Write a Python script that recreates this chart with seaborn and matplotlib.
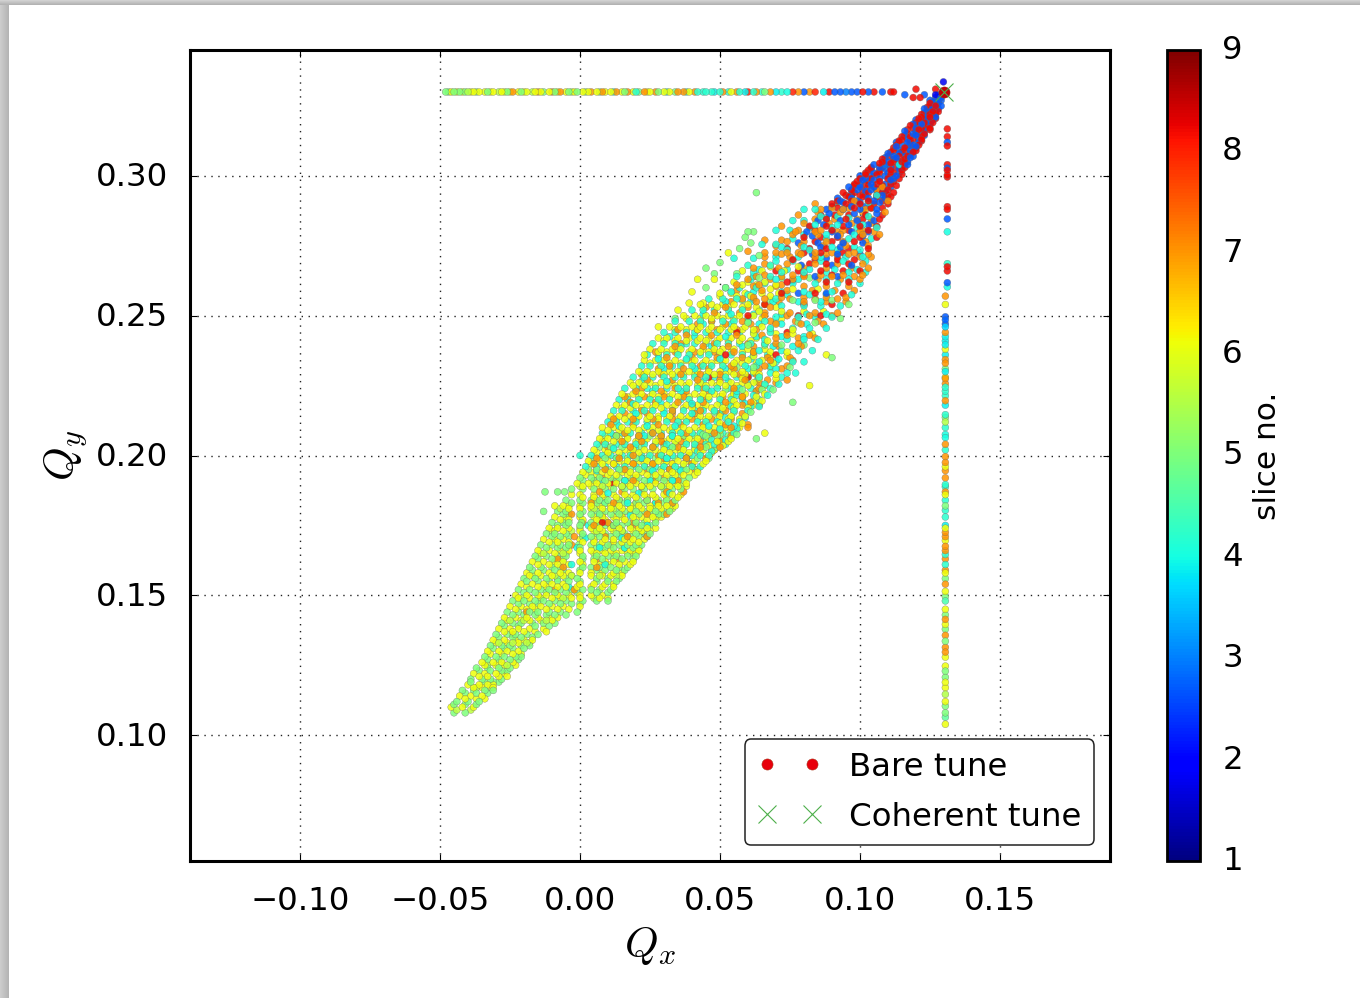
import numpy as np
import pandas as pd
import matplotlib
matplotlib.use("Agg")
import matplotlib.pyplot as plt
from matplotlib.patches import Rectangle
from matplotlib.cm import ScalarMappable
from matplotlib.colors import Normalize
from matplotlib.transforms import ScaledTranslation
import seaborn as sns

yellow_a = {
110:[-46,-42,-38],114:[-43,-39,-35],118:[-40,-36,-33,-31],122:[-38,-34,-30,-27],126:[-35,-31,-28,-24],
130:[-33,-29,-26,-22],134:[-31,-27,-23,-20,-17],138:[-29,-25,-22,-18,-13],142:[-27,-23,-19,-15,-11,-8],
146:[-25,-21,-17,-14,-10,-6,0],150:[-23,-19,-15,-12,-8,-4,0,4,8],154:[-21,-17,-13,-10,-6,0,5,9,12],
158:[-19,-15,-11,-7,-4,0,4,8,12,15],162:[-17,-13,-9,-6,0,5,9,12,16,19],166:[-15,-11,-7,-4,0,4,8,11,15,18,21],
170:[-13,-9,-6,0,5,9,12,16,19,23],174:[-11,-8,-4,0,4,7,11,14,18,21,24,27],178:[-9,-5,0,5,8,12,15,19,22,26,29],
182:[-9,-6,-4,0,4,7,11,14,18,21,25,28,31,34],186:[-3,0,5,8,12,16,19,23,26,30,33,36],190:[-1,3,6,10,13,17,20,24,27,31,34,38],
194:[1,4,8,11,15,18,22,26,29,33,36,39,42],198:[3,7,10,14,17,21,24,28,31,35,38,41,45],202:[5,9,12,16,19,23,27,30,34,37,41,44,48],
206:[7,10,14,17,21,24,28,32,35,39,42,46,50,54],210:[8,12,15,19,23,26,30,33,37,41,44,48,52,57],214:[11,14,18,21,25,28,32,36,39,43,46,50,54,59],
218:[13,16,20,24,27,31,34,38,42,45,49,53,56,62],222:[15,19,22,26,30,33,37,41,44,48,51,55,59,66],226:[18,21,25,29,32,36,39,43,47,50,54,58,62],
230:[21,24,28,32,35,39,42,46,50,54,58,62],234:[23,27,30,34,38,41,45,49,52,56,60,65],238:[25,29,33,36,40,44,48,51,55,60,66],
242:[28,31,35,39,43,46,50,54,58,63],246:[32,36,40,43,47,51,55,59,65],250:[37,41,45,49,53,57,62],254:[43,47,51,55,60,66],
258:[50,54,59,65,71],262:[55,60,66],266:[58,65,73],
}
yellow_b = {
113:[-41,-37,-34],117:[-38,-35,-31],121:[-36,-33,-29,-26],125:[-34,-30,-27,-23],129:[-32,-28,-24,-21],133:[-30,-26,-22,-18],
137:[-27,-24,-20,-16,-12],141:[-26,-21,-18,-14,-10],145:[-23,-19,-16,-12,-8,-4],149:[-22,-18,-14,-10,-7,-3,0,7,10],
153:[-19,-15,-12,-8,-5,-1,4,8,12],157:[-18,-14,-10,-6,-3,4,8,11,15],161:[-15,-11,-8,-4,1,7,10,14,18],165:[-14,-9,-5,0,6,9,13,17,20],
169:[-11,-8,-4,1,5,8,12,15,18,21],173:[-9,-6,0,5,8,12,15,19,22,25],177:[-7,-4,1,6,9,13,16,20,24,27],181:[-4,0,4,8,11,15,18,22,25,29,32],
185:[1,5,9,13,17,20,24,27,31,35],189:[1,4,7,11,15,18,22,25,29,32,35,38],193:[2,6,10,13,17,20,24,27,31,34,37,41],
197:[4,8,12,16,19,23,26,30,33,37,40,44],201:[6,10,14,18,21,25,29,32,36,39,43,47],205:[9,12,16,20,23,27,30,34,38,41,45,49,53],
209:[10,14,17,21,25,28,32,35,39,43,46,50,54],213:[13,16,20,24,28,31,35,38,42,45,49,53,57],217:[15,18,22,26,29,33,37,40,44,47,51,55,60],
221:[17,21,25,28,32,35,39,43,46,50,54,58,63],225:[19,23,27,31,34,38,42,45,49,52,56,60,66],229:[23,26,30,33,37,41,45,48,52,55,59,64,70],
233:[25,29,32,36,40,44,47,51,55,58,63,69],237:[28,31,35,39,43,46,50,54,58,62,68,74],241:[30,34,38,42,45,49,53,57,61,67],
245:[34,38,42,46,50,54,58,62,68,76],249:[38,43,47,51,55,60,65,72],253:[44,49,53,58,63,70],257:[50,56,61,68],261:[58,63,70],
}
yellow_c = {
203.5:[46,51],211.5:[50,58],219.5:[55,62,65],227.5:[58,64,70],235.5:[62,68,74],243.5:[62,70,76,83],251.5:[64,72,80,87],259.5:[68,76,85],267.5:[68,78],
236:[23,88],246:[28],252:[35],254.5:[39,44],258.5:[40],263:[42,48],272.5:[53],225:[82],208:[66],
}
green_a = {
108:[-45,-41],112:[-44,-40,-36],116:[-42,-38,-34,-31],120:[-39,-35,-32,-28],124:[-37,-33,-29,-25],
128:[-34,-30,-27,-23,-21],132:[-32,-28,-25,-21,-18],136:[-30,-26,-23,-19,-15],140:[-28,-24,-21,-17,-13,-9],
144:[-26,-22,-18,-15,-11,-7,-1],148:[-24,-20,-16,-13,-9,-5,1,6,10],152:[-22,-18,-14,-11,-7,-3,1,4,7,11],
156:[-20,-16,-12,-8,-5,-1,6,10,14],160:[-18,-14,-10,-7,1,4,7,11,14,17],164:[-16,-12,-8,-5,1,6,10,13,17,20],
168:[-14,-10,-7,-4,-0.5,4,7,10,14,17,20,22],172:[-12,-9,-5,1,6,9,13,16,20,23,25],176:[-10,-6,-4,0.5,4,7,10,13,17,20,23,27],
180:[-8,-13,-5,1,6,9,13,16,20,23,27,30,32],184:[-5,0,4,7,10,14,17,21,24,28,31,34],187:[-12.5,-8,-5.5],188:[-3,1,5,9,12,16,19,23,26,30,33,36],
192:[0,4,7,11,14,18,21,25,28,32,35,39],274:[57],278:[59],294:[63],
}
green_b = {
111:[-45,-41,-37],115:[-41,-37,-33],119:[-39,-34,-31,-29],123:[-36,-32,-28,-26],127:[-33,-29,-25,-22],131:[-31,-27,-24,-20],
135:[-29,-24,-21,-17],139:[-27,-22,-16,-11],143:[-24,-20,-16,-12,-9,-5],147:[-22,-18,-15,-11,-7,-3,0],151:[-20,-16,-12,-9,-5,-1,6,10],
155:[-19,-15,-11,-8,-4,0,6,10,13],159:[-17,-13,-9,-6,0,6,9,13,16],163:[-15,-10,-6,1,5,8,12,15,19],167:[-12,-8,-5,0,6,9,12,16,19,21],
171:[-10,-7,-4,1,4,7,11,14,18,21,24],175:[-8,-5,0,6,9,12,15,18,22,25],179:[-6,-4,0,4,7,11,14,18,21,25,28,30],183:[-3,1,6,9,13,16,20,23,27,30,33],
191:[1,5,9,13,16,20,23,27,30,33,37],195:[3,6,10,14,18,21,25,29,32,35,38,42],199:[5,9,13,17,20,24,27,31,34,38,42,46],
203:[7,11,15,19,22,26,30,33,37,41,45,49],207:[9,13,17,21,25,29,33,37,41,45,49,53],
}
green_c = {
207.5:[44,50,56],215.5:[48,55,61],223.5:[52,58,65,69],231.5:[56,62,68,75],239.5:[60,66,72,80],247.5:[60,70,78,84],255.5:[58,68,76,84,90],263.5:[64,72,82],271.5:[64],
267:[45],269:[50],249:[34,93],260:[45,52],254:[96],206:[63],219:[76],235:[90],265:[48,56],276:[61],280:[60,62],
}
teal_a = {
196:[2,6,9,13,16,20,23,27,30,34,37,40,43],200:[0,4,8,11,15,18,22,25,29,33,36,40,43,46],
204:[6,9,13,16,20,23,27,31,34,38,41,45,48,52],208:[8,11,15,18,22,26,29,33,36,40,43,47,51,55],212:[10,13,17,20,24,27,31,35,38,42,45,49,53,57],
216:[12,15,19,23,26,30,33,37,41,44,48,51,55,60],220:[14,17,21,25,28,32,36,39,43,46,50,54,58,64],224:[16,20,24,27,31,35,38,42,45,49,53,57,61,68],
228:[19,23,26,30,34,37,41,45,48,52,56,60,64,72],232:[22,25,29,33,36,40,44,47,51,55,59,63,68],236:[24,28,31,35,39,43,46,50,54,58,62,67],
240:[26,30,34,38,41,45,49,53,57,61,66],244:[30,34,38,41,45,49,53,57,62,68],248:[34,39,43,47,51,55,60,66],252:[40,44,48,53,58,64],
256:[46,51,56,62,70],260:[52,57,63],264:[56,62,68],268:[60,68],
}
teal_b = {
170.5:[2,15],178.5:[7,18,28],186.5:[10,21,32],194.5:[6,14,26,36],202.5:[12,20,32,42],210.5:[14,24,34,46,55],218.5:[19,29,40,50,59],
226.5:[22,31,44,53,63],234.5:[28,38,50,61,71],242.5:[32,41,52,63,72,80],250.5:[44,54,62,72,81,88],258.5:[54,62,72,80,90],
266.5:[64,74,82,91,99],274.5:[72,80,90,98],282.5:[84,92,101],290.5:[92,103],
153:[-4],161:[-3,9],167:[-1,7,16],175:[3,13,24],183:[9,17,27],191:[8,16,25,33],199:[13,22,31,38],207:[12,23,33,44],
215:[20,30,40,50],223:[26,36,47,56,63],231:[30,41,52,60,70],239:[36,47,58,69,76],247:[44,54,64,72,81],
255:[52,61,69,78,86],263:[61,70,78,88,96],271:[70,78,86,95,101],279:[80,88,98],285:[88,96],293:[97,106],304:[109,114],
}
teal_c = {
201.5:[42,47],205.5:[47,52],209.5:[50,56],213.5:[52,59],217.5:[54,61,64],221.5:[56,62,67],225.5:[60,66,71],229.5:[62,68,74,77],
233.5:[64,70,76,80],237.5:[64,72,78,83],241.5:[66,74,80,85],245.5:[68,76,82,88],249.5:[70,78,84,90],253.5:[72,80,86,93],
257.5:[60,74,82,88,97],261.5:[66,76,84,92,100],265.5:[62,72,80,88,96,102],269.5:[70,76,86,94,102],273.5:[74,82,92,100],277.5:[76,88,96,104],281.5:[82,90,99,106],285.5:[86,92,103],
270.5:[55,62],275.5:[65,70],280.5:[70,75],284:[76,80],288:[80,84],
}
lime = {
109:[-44,-39],117:[-37,-32],125:[-33,-26],133:[-29,-24,-19],141:[-25,-20,-12],149:[-21,-14,-6,5],
157:[-17,-9,-3,7,13],165:[-13,-6,5,12,19],173:[-10,-3,6,15,22],181:[-7,5,12,19,26,33],189:[0,8,15,22,29,36],
}
orange_a = {
136:[-24],144:[-19],152:[-9,-2],160:[-6,6],168:[-3,11],176:[1,10,19],184:[6,14,24],192:[8,20,30],200:[10,19,28,39],
208:[16,26,38,48],216:[22,33,43,52],224:[22,34,44,55,64],232:[32,43,54,66,74],240:[36,48,60,70,78],
248:[47,58,68,77,85],256:[58,66,75,84,92],264:[63,72,80,90,98],272:[72,79,88,96,103],280:[77,84,92,100,105],
288:[86,94,102],296:[108],
197:[5,12,19,26,33,40],205:[8,15,22,29,36,43,50],213:[12,19,26,33,40,47,54],221:[16,23,30,37,44,51,58],
229:[22,29,36,43,50,57,63],237:[27,34,41,48,55,62],245:[35,42,49,56,63],253:[45,52,60,68],261:[56,64,72],272.5:[66,74],
}
orange_b = {
163:[-8,6,14],171:[-2,9,17,24],175:[5,12,20],179:[-3,8,15,24,31],183:[4,12,20,28,33],187:[7,15,22,31,37],191:[5,12,19,27,35],
195:[9,16,24,32,41],199:[6,14,22,30,38,45],203:[10,18,26,35,43,50],207:[13,21,29,37,46,54],211:[11,19,28,36,44,52,60],
215:[16,24,33,41,50,58],219:[18,27,35,44,52,61],223:[20,29,38,46,55,63],227:[24,33,42,50,59,67,74],231:[28,37,46,55,64,72],
235:[31,40,49,58,67,75],239:[34,44,53,62,71,79],243:[38,47,56,65,74,82],247:[42,52,61,70,79,87],251:[48,57,66,75,84,92],
255:[54,63,71,80,88,95],259:[56,65,74,83,91,98],263:[60,68,76,85,93,100],267:[62,71,80,88,97,103],271:[66,75,84,92,100,104],
275:[70,79,87,95,103],279:[76,85,93,101,107],283:[80,89,97,104],287:[85,93,101,109],291:[98,110],295:[106],
}
orange_c = {
202:[48],210:[54,60],218:[58,64],226:[64,70],234:[68,76],242:[70,78,84],250:[66,74,82,90],256.5:[62,72,80,88,95],260.5:[62,70,80,88,96],
264.5:[66,76,86,94,101],268.5:[66,74,84,92,101],272.5:[70,78,84,90,98],276.5:[74,80,88,94,102],280.5:[78,86,94,101],284.5:[84,91,99,104],288.5:[90,96,104],
273:[60],277:[66,72],282:[72],286:[78],290:[84],
}
red_a = {
176:[8],190:[12],204:[30],218:[40],228:[46,60],236:[52,70],244:[56,74],250:[60,78,86],254:[66,80,90],
258:[72,84,94],262:[74,88,96],266:[70,78,86,94,100],270:[76,84,92,98],274:[74,82,88,96,103],278:[80,86,92,100,106],
282:[82,88,94,100,106],286:[86,91,96,102,108],290:[90,95,100,105,110],294:[94,98,103,108,112],298:[99,103,107,112],
302:[103,107,111,115],306:[108,112,116],310:[112,116,120],314:[115,118,122],318:[118,121,124],322:[122,125,127],
326:[125,128],328:[119,121.5],331:[120,127],
}
red_b = {
264.5:[80,90],268.5:[82,88,96],272.5:[80,86,94],276.5:[84,90,98],280.5:[84,90,96,103],284.5:[88,95,101,107],288.5:[92,98,104,108],
292.5:[96,101,106,111],296.5:[98,103,108,113],300.5:[102,106,111,115],304.5:[107,111,116],308.5:[111,115,119],312.5:[114,118,122],
316.5:[117,121,125],320.5:[121,124,127],324.5:[124,127],
}
red_c = {
291:[92,97,103,108],293:[95,100,106,110],295:[97,101,106,110],297:[98,102,106,111],299:[100,104,110,114],301:[102,107,112],303:[104,108,113,116],
305:[108,112,115],307:[110,114,117],309:[112,116,120],311:[113,118,121],313:[115,119,122],315:[117,120,123],317:[119,122,125],319:[120,123,126],
321:[122,125],323:[124,126,128],325:[125,127],
}
blue_a = {
258:[78,88],264:[84,92],268:[79,90,97],272:[83,92,100],276:[78,85,94,101],280:[81,90,97,103],284:[85,93,99,105],
288:[88,94,100,106],292:[92,97,103,109],296:[96,100,105,111],300:[100,104,109,113],304:[105,109,114,117],
308:[110,114,118],312:[113,117,121],316:[116,120,123],320:[120,123,126],324:[123,126,128],327:[125,127,129],329:[116,123,128],
}
blue_b = {
262.5:[76],270.5:[88],274.5:[86,93],278.5:[83,92,101],282.5:[87,96,103],286.5:[89,98,106],290.5:[94,100,107],294.5:[97,102,109],
298.5:[101,105,111],302.5:[104,109,114],306.5:[109,113,118],310.5:[113,117,120],314.5:[116,120,123],318.5:[119,122,125],322.5:[123,126],326.5:[126,128],
}
blue_c = {
289:[90,97,102],291:[93,99,105],293:[97,102,108],295:[99,104,108],297:[100,104,109],299:[102,107,112],301:[105,110,114],303:[107,111,115],
305:[110,114,117],307:[112,116,119],309:[114,118],311:[115,119],313:[117,121],315:[119,122],317:[120,123],319:[122,125],321:[124,127],323:[125,127],325:[127,129],328:[127,129],
}
navy = {329:[129,127],333.6:[129.8],325:[126]}

# horizontal branch at Qy = 0.33
hline_qx = [-48,-47,-46,-45,-44,-43,-42,-41,-40,-39,-38,-37,-36,-34,-33,-32,-31,-29,-28,-27,-26,-25,-24,-22,-21,-20,-19,-17,-16,-15,-14,
-13,-11,-10,-9,-8,-7,-5,-4,-3,-2,-1,
1,2,3,4,6,7,8,9,11,12,13,15,16,17,19,20,21,23,24,25,27,28,30,31,32,34,35,37,38,39,41,42,44,45,
47,48,50,51,53,54,56,57,59,60,62,63,65,66,68,70,72,74,76,78,80,82,84,87,89,91,93,95,97,99,101,103,105,108,111,112]
hline_slice = [5,5,6.1,5,6,5,6.1,5,5.5,6.1,6.1,5,6.1,6,5,6.1,6.1,5.5,6.1,6,5,6.1,7,6.1,5,6.1,6,5.5,6.1,7,6.1,
5,6.1,7,5,6,7,6.1,5,5.5,6.1,5,
6.1,5,6.1,7,6.1,5,7,6.1,6.1,4.2,7,6.1,5,7,6.1,4.2,5,7,6.1,6.1,7,5,6.1,4.2,6.1,5,7,7,4.2,6.1,7,4.2,4.2,4.2,
4.2,3.9,4.2,7,4.2,6.1,7,4.2,3.9,8,4.2,7,4.2,5,7,3.9,4.2,4,8,7,2.7,7,8,3.9,8.2,2.7,2.7,3,2.7,2.7,8.2,2.7,8.2,2.7,8.2,8.2]

# vertical branch at Qx = 0.13
vline_qy = [316.8,314,312,310.7,304,302.8,302,300.3,299.6,289,288,284.6,280,268.6,267.5,266,261.8,260.3,257,254,
249.6,248.5,247,246,244,242.5,241,239.6,238,236,234.3,233,231,230,228,227.5,225.7,224.4,223,221.4,219.6,218,214.6,213.6,
212,210,207.5,206.4,204,202,199.6,197.5,196,194.6,192,189.6,188.8,187,186,184,182,180.4,178,175,174,172.5,171,169.6,167.5,166,
164.6,163,161,159,158,156,154,151.4,149.6,148,145,143,141.4,139.6,137.9,135.7,133.6,131.4,129.7,127.9,124.7,122.9,120.7,118.9,117,
114.6,112,110.4,108,106.4,103.9]
vline_slice = [8.2,8.2,2.7,8.2,8.2,2.7,8.2,8.2,8.2,8.2,8.2,2.7,4,4.2,8.2,8.2,2.7,4,7,6.1,
2.7,2.8,2.7,3.7,7,3.9,3.9,3.9,6.1,3.9,7,7,5,3.9,6.1,7,7,4.2,4.2,4.2,7,3.9,4.2,5,
5.5,4.2,4,4,7,4.2,7,7,6.1,7,7,4.2,4.2,7,6.1,4.2,5,4.2,4.2,3.9,6.1,7,7,6.1,7,7,
4.2,7,4.2,7,6.1,5,7,6.1,5,4.5,6.1,5,7,6.1,5,7,5,7,7,6.1,6.1,5,5,6.1,6.1,
5.5,6.1,5,5,4.7,6.1]

bare_qx = [0.13]; bare_qy = [0.33]
coh_qx = [0.13]; coh_qy = [0.33]
x_ticks = [-0.10,-0.05,0.00,0.05,0.10,0.15]
y_ticks = [0.10,0.15,0.20,0.25,0.30]
cbar_ticks = [1,2,3,4,5,6,7,8,9]

sns.set_style("white")
plt.rcParams['font.family'] = ['DejaVu Sans']
plt.rcParams['mathtext.fontset'] = 'cm'

records = []
groups = [(6.1,yellow_a),(6.1,yellow_b),(6.1,yellow_c),(5,green_a),(5,green_b),(5,green_c),(4.2,teal_a),(4,teal_b),(4.1,teal_c),(5.6,lime),
          (7,orange_a),(7,orange_b),(7,orange_c),(8.2,red_a),(8.2,red_b),(8.2,red_c),(2.7,blue_a),(2.7,blue_b),(2.7,blue_c),(1.8,navy)]
for s, rows in groups:
    for qy, xs in rows.items():
        for qx in xs:
            records.append((qx/1000, qy/1000, s))
for qx, s in zip(hline_qx, hline_slice):
    records.append((qx/1000, 0.33, s))
for qy, s in zip(vline_qy, vline_slice):
    records.append((0.1305 if qy < 260 else 0.1312, qy/1000, s))
df = pd.DataFrame(records, columns=['qx','qy','slice'])
# mix the slices in drawing order, as in a single scatter call
df['order'] = (df.qx*1000*7 + df.qy*1000*13) % 17
df = df.sort_values('order')

fig = plt.figure(figsize=(13.6,9.98), dpi=100, facecolor='white')
W, H = 1360, 998
for i in range(9):
    g = 0.80 - 0.012*i
    fig.add_artist(Rectangle((i/W,0),1/W,1,transform=fig.transFigure,color=str(g),lw=0,zorder=0))
for i in range(5):
    g = 0.82 - 0.03*i
    fig.add_artist(Rectangle((0,1-(i+1)/H),1,1/H,transform=fig.transFigure,color=str(g),lw=0,zorder=0))

ax = fig.add_axes([190/W,(H-861)/H,920/W,811/H])
ax.set_facecolor('white')
sns.scatterplot(data=df, x='qx', y='qy', hue='slice', palette=matplotlib.colormaps['jet'], hue_norm=(1,9), s=25,
                edgecolor='#666666', linewidth=0.25, alpha=0.85, legend=False, ax=ax, zorder=3)
ax.plot(bare_qx, bare_qy, 'o', color='#e8000b', mec='#a83a20', mew=0.4, ms=8, ls='none', zorder=4, label='Bare tune')
ax.plot(bare_qx, bare_qy, 'o', color='#800000', mec='none', alpha=0.35, ms=8, ls='none', zorder=5)
ax.plot(coh_qx, coh_qy, 'x', color='#4daf4a', ms=13, mew=0.8, ls='none', zorder=6, label='Coherent tune')

ax.set_xlim(-0.1393,0.1893); ax.set_ylim(0.055,0.345)
ax.set_xticks(x_ticks); ax.set_yticks(y_ticks)
ax.set_xticklabels([f"{v:.2f}".replace('-','\u2212') for v in x_ticks])
ax.set_yticklabels([f"{v:.2f}" for v in y_ticks])
ax.grid(True, ls=(0,(1,4)), color='#222222', lw=1.0, zorder=1)
ax.set_axisbelow(True)
ax.tick_params(direction='in', length=5, width=0.8, top=True, right=True, bottom=True, left=True, labelsize=23.3, pad=18, color='black', labelcolor='black')
ax.tick_params(axis='y', pad=16)
for sp in ax.spines.values():
    sp.set_linewidth(2.2); sp.set_color('black'); sp.set_visible(True)
ax.set_xlabel('$Q_x$', fontsize=31, labelpad=6, color='black')
ax.set_ylabel('$Q_y$', fontsize=31, labelpad=4, color='black')
up = ScaledTranslation(0, 1.5/100, fig.dpi_scale_trans)
for t in ax.get_yticklabels():
    t.set_transform(t.get_transform() + up)

leg = ax.legend(loc='lower right', numpoints=2, fontsize=23.3, frameon=True, fancybox=True, framealpha=1,
                edgecolor='#222222', facecolor='white', bbox_to_anchor=(904/920,16/811), labelcolor='black',
                borderaxespad=0, handlelength=2.0, labelspacing=0.59, handletextpad=0.85, borderpad=0.38)
leg.get_frame().set_linewidth(1.1)
leg.set_zorder(10)

cax = fig.add_axes([1167/W,(H-861)/H,33/W,811/H])
sm = ScalarMappable(norm=Normalize(1,9), cmap='jet')
cb = fig.colorbar(sm, cax=cax, ticks=cbar_ticks)
cb.outline.set_linewidth(2); cb.outline.set_edgecolor('black')
cb.ax.tick_params(length=0, labelsize=23.3, pad=16, labelcolor='black')
up2 = ScaledTranslation(0, 3/100, fig.dpi_scale_trans)
for t in cb.ax.get_yticklabels():
    t.set_transform(t.get_transform() + up2)
cb.set_label('slice no.', fontsize=22.5, labelpad=7, color='black')

fig.savefig('out.png', dpi=100, facecolor=fig.get_facecolor())
